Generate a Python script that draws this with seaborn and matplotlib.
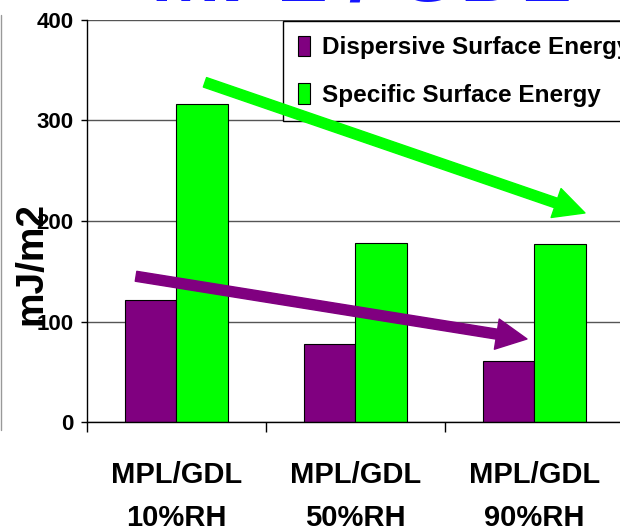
import matplotlib
matplotlib.use("Agg")
import matplotlib.pyplot as plt
from matplotlib.patches import FancyArrowPatch, ArrowStyle
from matplotlib.lines import Line2D
import seaborn as sns
import pandas as pd

# Surface energy of MPL/GDL samples at three humidity levels (mJ/m2)
samples = ["MPL/GDL\n10%RH", "MPL/GDL\n50%RH", "MPL/GDL\n90%RH"]
dispersive = [121, 78, 61]
specific = [316, 178, 177]
series_names = ["Dispersive Surface Energy", "Specific Surface Energy"]
series_colors = ["#800080", "#00ff00"]
y_ticks = [0, 100, 200, 300, 400]

df = pd.DataFrame({
    "sample": samples * 2,
    "energy": dispersive + specific,
    "series": [series_names[0]] * len(samples) + [series_names[1]] * len(samples),
})

sns.set_theme(style="white")
plt.rcParams["font.family"] = ["Liberation Sans", "DejaVu Sans"]
plt.rcParams["font.weight"] = "bold"
for key in ("text.color", "axes.labelcolor", "xtick.color", "ytick.color"):
    plt.rcParams[key] = "black"

fig = plt.figure(figsize=(6.2, 5.26), dpi=100)
fig.patch.set_facecolor("white")
ax = fig.add_axes([87 / 620, 1 - 422 / 526, 537 / 620, 402 / 526])

sns.barplot(data=df, x="sample", y="energy", hue="series",
            palette=series_colors, saturation=1, width=0.576, gap=0,
            edgecolor="black", linewidth=0.8, errorbar=None, ax=ax)

# axes, grid and ticks
ax.set_ylim(0, 400)
ax.set_yticks(y_ticks, labels=[str(v) for v in y_ticks],
              fontsize=16, fontweight="bold", color="black")
ax.yaxis.grid(True, color="#555555", linewidth=1.0)
ax.set_axisbelow(True)
for side in ("top", "right"):
    ax.spines[side].set_visible(False)
for side in ("left", "bottom"):
    ax.spines[side].set_color("black")
    ax.spines[side].set_linewidth(1.0)

ax.set_xticks(range(len(samples)), labels=samples, fontsize=21,
              fontweight="bold", color="black", linespacing=1.7)
ax.set_xticks([i - 0.5 for i in range(len(samples) + 1)], minor=True)
ax.tick_params(axis="x", which="major", length=0, pad=28, bottom=True)
ax.tick_params(axis="x", which="minor", length=7.5, width=1, color="black",
               direction="out", bottom=True)
ax.tick_params(axis="y", which="major", length=4.5, width=1, color="black",
               direction="out", pad=5, left=True)

ax.set_xlabel("")
ax.set_ylabel("mJ/m2", fontsize=28, fontweight="bold", color="black")
ax.yaxis.set_label_coords(-0.07, 0.395)

# legend box
handles, labels = ax.get_legend_handles_labels()
leg = ax.legend(handles, labels, loc="upper left", bbox_to_anchor=(0.365, 0.9975),
                frameon=True, fancybox=False, edgecolor="black", framealpha=1,
                prop={"family": "Liberation Sans", "weight": "bold", "size": 17.5},
                handlelength=0.5, handleheight=0.9, handletextpad=0.5,
                labelspacing=1.0, borderpad=0.6, borderaxespad=0)
leg.get_frame().set_linewidth(1.0)
leg.set_zorder(5)

# trend arrows
arrows = [
    ((0.159, 338), (2.282, 208), "#00ff00"),
    ((-0.226, 145), (1.958, 82.6), "#800080"),
]
for start, end, col in arrows:
    arr = FancyArrowPatch(start, end, transform=ax.transData,
                          arrowstyle=ArrowStyle.Simple(head_length=22, head_width=22,
                                                       tail_width=7.2),
                          mutation_scale=1, shrinkA=0, shrinkB=0,
                          color=col, zorder=6, clip_on=False)
    ax.add_patch(arr)

# slide title above the chart
fig.text(0.583, 1 - 1 / 526, "MPL / GDL", color="#1414ff", fontsize=60,
         fontweight="bold", ha="center", va="baseline")

# thin frame line at the left edge
fig.add_artist(Line2D([1 / 620, 1 / 620], [1 - 15 / 526, 1 - 430 / 526],
                      color="#999999", linewidth=1, transform=fig.transFigure))

fig.savefig("out.png", dpi=100, facecolor="white")
